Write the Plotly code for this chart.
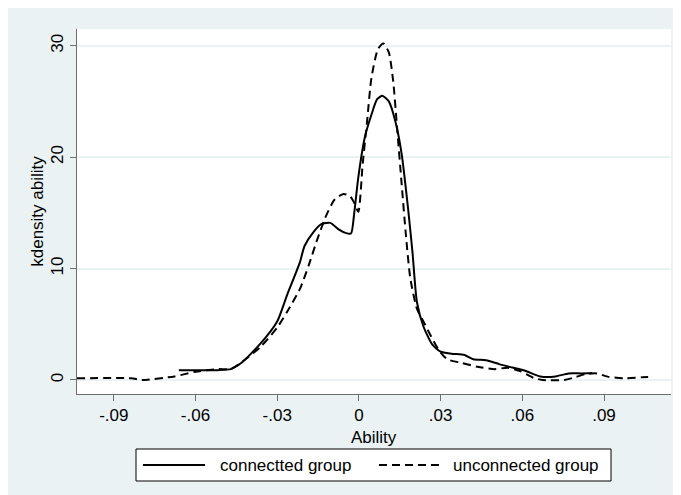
import plotly.graph_objects as go

# Connected group (solid)
conn_x = [-0.0661, -0.060, -0.0518, -0.047, -0.043, -0.036, -0.030, -0.0264, -0.0216, -0.020,
          -0.0169, -0.0137, -0.0105, -0.0073, -0.0049, -0.0029, -0.0017, -0.0002, 0.0022, 0.0046,
          0.0067, 0.0086, 0.011, 0.0134, 0.0157, 0.0181, 0.0197, 0.0213, 0.0237, 0.0269,
          0.030, 0.034, 0.0388, 0.042, 0.0467, 0.0515, 0.0563, 0.061, 0.0666, 0.0722,
          0.077, 0.0817, 0.0857]
conn_y = [0.88, 0.88, 0.88, 0.97, 1.56, 3.3, 5.25, 7.6, 10.6, 12.0,
          13.2, 14.0, 14.1, 13.5, 13.2, 13.15, 15.0, 18.2, 21.8, 23.8,
          25.2, 25.5, 25.0, 23.2, 20.3, 15.3, 11.4, 7.0, 4.8, 3.2,
          2.54, 2.36, 2.24, 1.86, 1.77, 1.42, 1.12, 0.83, 0.32, 0.32,
          0.59, 0.59, 0.62]

# Unconnected group (dashed)
unconn_x = [-0.1035, -0.0836, -0.0797, -0.0677, -0.060, -0.0518, -0.047, -0.043, -0.036, -0.030,
            -0.0264, -0.0216, -0.0184, -0.0153, -0.0121, -0.0089, -0.0057, -0.0033, -0.0017, -0.0002,
            0.0014, 0.003, 0.0046, 0.007, 0.009, 0.011, 0.0126, 0.0141, 0.0157, 0.0173,
            0.0189, 0.0213, 0.0237, 0.0261, 0.0293, 0.0324, 0.0372, 0.0436, 0.0499, 0.0547,
            0.0595, 0.0642, 0.0674, 0.0754, 0.0785, 0.0833, 0.0873, 0.0913, 0.0976, 0.104, 0.108]
unconn_y = [0.15, 0.15, 0.0, 0.32, 0.74, 0.97, 1.0, 1.6, 3.0, 4.7,
            6.1, 8.2, 10.3, 12.6, 14.7, 16.2, 16.7, 16.5, 15.9, 15.1,
            19.4, 23.2, 27.1, 29.7, 30.2, 29.4, 26.8, 22.4, 17.6, 12.9,
            9.1, 6.4, 5.25, 4.1, 2.7, 1.86, 1.56, 1.18, 0.97, 1.1,
            0.77, 0.18, 0.0, 0.0, 0.18, 0.53, 0.59, 0.3, 0.15, 0.24, 0.3]

series_names = ["connectted group", "unconnected group"]
x_ticks = [-0.09, -0.06, -0.03, 0, 0.03, 0.06, 0.09]
x_tick_labels = ["-.09", "-.06", "-.03", "0", ".03", ".06", ".09"]
x_clipped_label = ".12"
y_ticks = [0, 10, 20, 30]
y_tick_labels = ["0", "10", "20", "30"]
x_title = "Ability"
y_title = "kdensity ability"

FONT = "Liberation Sans, Arial, sans-serif"
DASH = "8px,5px"

fig = go.Figure()
fig.add_trace(go.Scatter(x=conn_x, y=conn_y, mode="lines", name=series_names[0],
                         line=dict(color="black", width=2, shape="spline", smoothing=0.6)))
fig.add_trace(go.Scatter(x=unconn_x, y=unconn_y, mode="lines", name=series_names[1],
                         line=dict(color="black", width=2, dash=DASH, shape="spline", smoothing=0.6)))

# plot area (in window px): x 77..671, y 27..392
def px_x(p):
    return (p - 77) / 594.0

def px_y(p):
    return (392 - p) / 365.0

ly = px_y(463)
shapes = [
    dict(type="rect", xref="paper", yref="paper", x0=px_x(136), x1=px_x(611),
         y0=px_y(479), y1=px_y(447), line=dict(color="black", width=1), fillcolor="white", layer="above"),
    dict(type="line", xref="paper", yref="paper", x0=px_x(143), x1=px_x(205), y0=ly, y1=ly,
         line=dict(color="black", width=2)),
    dict(type="line", xref="paper", yref="paper", x0=px_x(379), x1=px_x(443), y0=ly, y1=ly,
         line=dict(color="black", width=2, dash=DASH)),
]
annotations = [
    dict(xref="paper", yref="paper", x=px_x(218), y=ly, text=series_names[0], showarrow=False,
         xanchor="left", yanchor="middle", font=dict(size=17, color="black")),
    dict(xref="paper", yref="paper", x=px_x(451), y=ly, text=series_names[1], showarrow=False,
         xanchor="left", yanchor="middle", font=dict(size=17, color="black")),
    dict(xref="paper", yref="paper", x=0.5, y=px_y(435), text=x_title, showarrow=False,
         xanchor="center", yanchor="middle", font=dict(size=17, color="black")),
    dict(xref="paper", yref="paper", x=px_x(686), y=px_y(411), text=x_clipped_label, showarrow=False,
         xanchor="center", yanchor="middle", font=dict(size=17, color="black")),
]

fig.update_layout(
    width=681, height=495,
    margin=dict(l=69, r=18, t=21, b=109),
    paper_bgcolor="#eaf2f3",
    plot_bgcolor="white",
    font=dict(family=FONT, size=17, color="black"),
    showlegend=False,
    shapes=shapes,
    annotations=annotations,
    xaxis=dict(range=[-0.1035, 0.1146], tickvals=x_ticks, ticktext=x_tick_labels,
               showgrid=False, zeroline=False, showline=True, linecolor="#6e6e6e", linewidth=1,
               ticks="outside", ticklen=6, tickcolor="#6e6e6e"),
    yaxis=dict(range=[-1.26, 31.5], tickvals=y_ticks, ticktext=y_tick_labels, tickangle=-90,
               showgrid=True, gridcolor="#eaf2f3", gridwidth=1.5, zeroline=False,
               showline=True, linecolor="#6e6e6e", linewidth=1,
               ticks="outside", ticklen=6, tickcolor="#6e6e6e",
               title=dict(text=y_title, standoff=0, font=dict(size=17))),
)

fig.write_html("out.html")
